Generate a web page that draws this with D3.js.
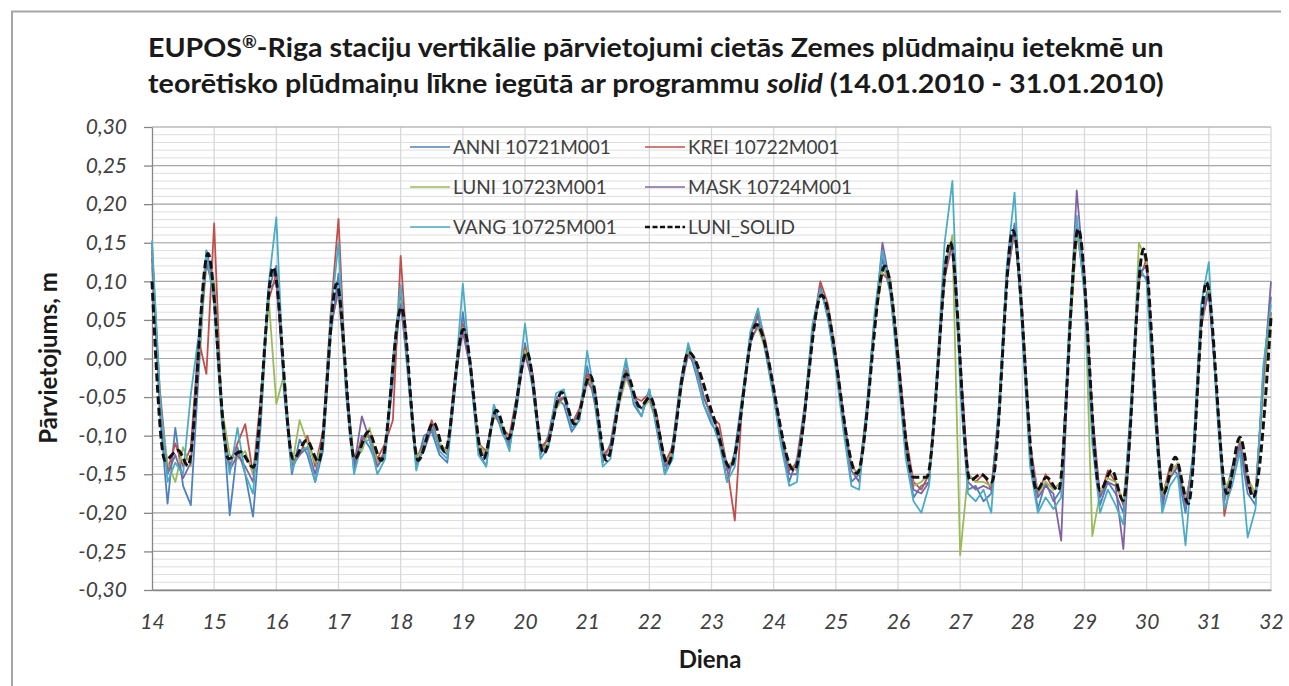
<!DOCTYPE html>
<html>
<head>
<meta charset="utf-8">
<script src="https://cdn.jsdelivr.net/npm/d3@7"></script>
<style>
  body { margin: 0; background: #fff; }
  svg text { font-family: Lato, "Open Sans", sans-serif; }
</style>
</head>
<body>
<svg id="chart" width="1289" height="686"></svg>
<script>
// axis ticks
var xTicks = [14, 15, 16, 17, 18, 19, 20, 21, 22, 23, 24, 25, 26, 27, 28, 29, 30, 31, 32];
var yTicks = [-0.30, -0.25, -0.20, -0.15, -0.10, -0.05, 0.00, 0.05, 0.10, 0.15, 0.20, 0.25, 0.30];

var seriesNames = ["ANNI 10721M001", "KREI 10722M001", "LUNI 10723M001", "MASK 10724M001", "VANG 10725M001"];
var seriesColors = ["#4f81bd", "#c0504d", "#9bbb59", "#8064a2", "#4bacc6"];
var solidName = "LUNI_SOLID";

// station readings, every 3 hours from 14.0 to 32.0 (8 per day)
var anni = [
  0.150, -0.070, -0.188, -0.090, -0.165, -0.190, -0.020, 0.140,
  0.095, -0.060, -0.203, -0.115, -0.150, -0.205, -0.085, 0.090,
  0.120, -0.045, -0.150, -0.105, -0.125, -0.160, -0.120, 0.030,
  0.110, -0.050, -0.145, -0.100, -0.115, -0.140, -0.125, -0.030,
  0.080, -0.030, -0.140, -0.100, -0.095, -0.125, -0.135, -0.040,
  0.060, -0.020, -0.120, -0.140, -0.060, -0.095, -0.115, -0.060,
  0.020, -0.040, -0.125, -0.100, -0.050, -0.060, -0.095, -0.080,
  -0.010, -0.060, -0.135, -0.110, -0.050, -0.005, -0.060, -0.075,
  -0.040, -0.095, -0.150, -0.110, -0.030, 0.015, -0.020, -0.060,
  -0.085, -0.100, -0.160, -0.120, -0.045, 0.030, 0.055, 0.005,
  -0.050, -0.110, -0.160, -0.130, -0.060, 0.040, 0.095, 0.050,
  -0.010, -0.090, -0.160, -0.150, -0.060, 0.055, 0.130, 0.085,
  -0.010, -0.120, -0.180, -0.165, -0.160, -0.020, 0.125, 0.150,
  -0.020, -0.170, -0.165, -0.185, -0.175, -0.060, 0.115, 0.175,
  0.040, -0.130, -0.195, -0.160, -0.185, -0.170, 0.030, 0.170,
  0.090, -0.090, -0.190, -0.160, -0.175, -0.200, -0.060, 0.110,
  0.105, -0.055, -0.195, -0.140, -0.150, -0.200, -0.120, 0.055,
  0.095, -0.050, -0.185, -0.140, -0.115, -0.175, -0.190, -0.020,
  0.080
];
var krei = [
  0.140, -0.040, -0.145, -0.110, -0.140, -0.115, 0.025, -0.020,
  0.175, -0.080, -0.140, -0.110, -0.085, -0.150, -0.050, 0.075,
  0.110, -0.030, -0.135, -0.125, -0.100, -0.140, -0.095, 0.060,
  0.181, -0.040, -0.135, -0.105, -0.100, -0.130, -0.110, -0.080,
  0.133, -0.020, -0.130, -0.110, -0.080, -0.115, -0.120, -0.020,
  0.045, -0.005, -0.110, -0.120, -0.070, -0.090, -0.100, -0.045,
  0.015, -0.020, -0.115, -0.105, -0.055, -0.050, -0.085, -0.065,
  -0.020, -0.040, -0.125, -0.115, -0.055, -0.015, -0.050, -0.055,
  -0.045, -0.075, -0.135, -0.115, -0.035, 0.010, -0.005, -0.050,
  -0.075, -0.085, -0.140, -0.210, -0.050, 0.030, 0.060, 0.020,
  -0.040, -0.100, -0.145, -0.135, -0.065, 0.035, 0.100, 0.070,
  0.005, -0.075, -0.140, -0.150, -0.070, 0.050, 0.110, 0.100,
  0.010, -0.100, -0.160, -0.170, -0.150, -0.030, 0.105, 0.150,
  0.000, -0.150, -0.160, -0.150, -0.170, -0.070, 0.110, 0.165,
  0.060, -0.110, -0.175, -0.150, -0.170, -0.160, 0.020, 0.160,
  0.110, -0.070, -0.180, -0.145, -0.160, -0.190, -0.070, 0.100,
  0.130, -0.035, -0.180, -0.140, -0.140, -0.185, -0.135, 0.040,
  0.090, -0.040, -0.204, -0.150, -0.105, -0.160, -0.175, -0.030,
  0.060
];
var luni = [
  0.120, -0.060, -0.135, -0.160, -0.115, -0.140, 0.000, 0.120,
  0.100, -0.065, -0.125, -0.130, -0.120, -0.150, -0.070, 0.080,
  -0.059, -0.020, -0.140, -0.080, -0.110, -0.135, -0.110, 0.045,
  0.085, -0.035, -0.130, -0.120, -0.090, -0.135, -0.120, -0.010,
  0.075, -0.015, -0.130, -0.115, -0.090, -0.110, -0.120, -0.030,
  0.040, -0.015, -0.110, -0.125, -0.075, -0.085, -0.110, -0.050,
  0.010, -0.030, -0.120, -0.110, -0.065, -0.050, -0.085, -0.075,
  -0.025, -0.045, -0.125, -0.125, -0.065, -0.025, -0.050, -0.065,
  -0.055, -0.085, -0.140, -0.120, -0.045, 0.010, -0.010, -0.050,
  -0.075, -0.095, -0.140, -0.130, -0.060, 0.025, 0.040, 0.010,
  -0.045, -0.100, -0.140, -0.145, -0.075, 0.030, 0.085, 0.065,
  0.000, -0.080, -0.140, -0.150, -0.075, 0.045, 0.115, 0.105,
  0.005, -0.110, -0.165, -0.160, -0.150, -0.035, 0.115, 0.160,
  -0.255, -0.150, -0.160, -0.160, -0.165, -0.080, 0.105, 0.165,
  0.055, -0.115, -0.175, -0.160, -0.170, -0.160, 0.015, 0.165,
  0.105, -0.230, -0.175, -0.155, -0.160, -0.185, -0.080, 0.150,
  0.125, -0.045, -0.175, -0.150, -0.135, -0.185, -0.140, 0.045,
  0.090, -0.040, -0.170, -0.150, -0.105, -0.155, -0.175, -0.040,
  0.055
];
var mask = [
  0.130, -0.055, -0.150, -0.125, -0.155, -0.135, 0.015, 0.125,
  0.085, -0.075, -0.145, -0.125, -0.140, -0.160, -0.065, 0.090,
  0.100, -0.030, -0.140, -0.125, -0.115, -0.150, -0.110, 0.040,
  0.090, -0.030, -0.140, -0.075, -0.105, -0.140, -0.120, -0.005,
  0.070, -0.015, -0.135, -0.120, -0.090, -0.115, -0.125, -0.025,
  0.035, -0.015, -0.115, -0.130, -0.070, -0.090, -0.110, -0.050,
  0.005, -0.030, -0.120, -0.115, -0.060, -0.050, -0.085, -0.070,
  -0.030, -0.045, -0.125, -0.125, -0.060, -0.020, -0.050, -0.065,
  -0.050, -0.085, -0.140, -0.125, -0.040, 0.005, -0.010, -0.050,
  -0.075, -0.095, -0.145, -0.135, -0.055, 0.020, 0.045, 0.015,
  -0.040, -0.100, -0.150, -0.150, -0.075, 0.030, 0.090, 0.060,
  0.000, -0.080, -0.145, -0.160, -0.075, 0.045, 0.150, 0.095,
  0.000, -0.110, -0.170, -0.175, -0.160, -0.035, 0.115, 0.145,
  -0.005, -0.160, -0.170, -0.165, -0.170, -0.075, 0.100, 0.170,
  0.050, -0.115, -0.180, -0.165, -0.175, -0.236, 0.020, 0.218,
  0.100, -0.080, -0.180, -0.160, -0.165, -0.247, -0.075, 0.110,
  0.120, -0.045, -0.185, -0.155, -0.140, -0.190, -0.140, 0.050,
  0.085, -0.045, -0.175, -0.155, -0.110, -0.165, -0.180, -0.030,
  0.100
];
var vang = [
  0.153, -0.045, -0.160, -0.135, -0.150, -0.046, 0.030, 0.140,
  0.070, -0.085, -0.150, -0.090, -0.150, -0.175, -0.060, 0.095,
  0.183, -0.040, -0.145, -0.120, -0.115, -0.160, -0.105, 0.055,
  0.150, -0.045, -0.150, -0.110, -0.105, -0.150, -0.130, 0.000,
  0.095, -0.025, -0.145, -0.110, -0.085, -0.120, -0.130, -0.030,
  0.097, -0.020, -0.125, -0.140, -0.060, -0.090, -0.120, -0.045,
  0.045, -0.035, -0.130, -0.115, -0.045, -0.040, -0.090, -0.080,
  0.010, -0.050, -0.140, -0.130, -0.050, 0.000, -0.055, -0.075,
  -0.040, -0.090, -0.150, -0.130, -0.035, 0.020, -0.015, -0.060,
  -0.080, -0.110, -0.160, -0.140, -0.050, 0.035, 0.065, 0.010,
  -0.050, -0.115, -0.165, -0.160, -0.065, 0.045, 0.090, 0.055,
  -0.015, -0.095, -0.165, -0.170, -0.065, 0.060, 0.140, 0.090,
  -0.020, -0.130, -0.185, -0.200, -0.165, -0.020, 0.150, 0.230,
  -0.040, -0.175, -0.185, -0.170, -0.200, -0.060, 0.120, 0.215,
  0.030, -0.140, -0.200, -0.180, -0.195, -0.180, 0.040, 0.185,
  0.080, -0.110, -0.200, -0.170, -0.190, -0.215, -0.050, 0.120,
  0.100, -0.070, -0.200, -0.165, -0.150, -0.242, -0.120, 0.070,
  0.125, -0.060, -0.195, -0.165, -0.120, -0.232, -0.195, -0.010,
  0.070
];

// theoretical tide (solid), read at its turning points
var solidDays = [14.00, 14.21, 14.42, 14.58, 14.90, 15.23, 15.42, 15.63, 15.95, 16.27, 16.49, 16.68,
  16.97, 17.26, 17.48, 17.69, 18.01, 18.28, 18.53, 18.71, 19.01, 19.33, 19.54, 19.73, 20.03, 20.30,
  20.59, 20.80, 21.05, 21.31, 21.63, 21.85, 22.01, 22.30, 22.63, 23.03, 23.30, 23.72, 24.33, 24.77,
  25.34, 25.79, 26.25, 26.46, 26.84, 27.16, 27.33, 27.51, 27.85, 28.23, 28.39, 28.58, 28.90, 29.25,
  29.44, 29.62, 29.95, 30.27, 30.46, 30.67, 30.96, 31.29, 31.50, 31.71, 32.00];
var solidValues = [0.100, -0.132, -0.119, -0.139, 0.136, -0.130, -0.121, -0.141, 0.118, -0.130, -0.106, -0.134,
  0.097, -0.130, -0.095, -0.132, 0.066, -0.132, -0.083, -0.121, 0.038, -0.130, -0.067, -0.104, 0.008, -0.123,
  -0.044, -0.085, -0.022, -0.132, -0.020, -0.063, -0.050, -0.137, 0.008, -0.075, -0.141, 0.044, -0.145, 0.082,
  -0.149, 0.120, -0.154, -0.154, 0.151, -0.158, -0.150, -0.160, 0.166, -0.171, -0.154, -0.171, 0.168, -0.171,
  -0.145, -0.184, 0.142, -0.175, -0.128, -0.188, 0.099, -0.175, -0.102, -0.180, 0.053];

var stations = [anni, krei, luni, mask, vang];

var svg = d3.select("#chart");
var x = d3.scaleLinear().domain([14, 32]).range([152, 1271]);
var y = d3.scaleLinear().domain([-0.3, 0.3]).range([590, 127]);
var fmt = d3.formatLocale({decimal: ",", thousands: " ", grouping: [3], currency: ["", ""], minus: "-"}).format(".2f");

// outer chart frame
svg.append("path")
  .attr("d", "M12,686 V11.5 H1281")
  .attr("fill", "none")
  .attr("stroke", "#a6a6a6")
  .attr("stroke-width", 2);

// title
var titleLines = [
  [{t: "EUPOS"}, {t: "®", sup: true}, {t: "-Riga staciju vertikālie pārvietojumi cietās Zemes plūdmaiņu ietekmē un"}],
  [{t: "teorētisko plūdmaiņu līkne iegūtā ar programmu "}, {t: "solid", italic: true}, {t: " (14.01.2010 - 31.01.2010)"}]
];
var titleBase = [57, 93];
titleLines.forEach(function(parts, i) {
  var g = svg.append("g");
  var txt = g.append("text")
    .attr("font-size", 27)
    .attr("font-weight", "bold")
    .attr("fill", "#1a1a1a");
  parts.forEach(function(p) {
    var ts = txt.append("tspan").text(p.t).attr("font-style", p.italic ? "italic" : "normal");
    if (p.sup) ts.attr("font-size", 17).attr("dy", -9);
    else if (p.t.charAt(0) === "-") ts.attr("dy", 9);
  });
  var w = txt.node().getBBox().width;
  g.attr("transform", "translate(148," + titleBase[i] + ") scale(" + (1016 / w) + ",1)");
});

// grid
var plot = svg.append("g");
var minor = d3.range(-30, 31).map(function(i) { return i / 100; });
plot.selectAll(".minor").data(minor).enter().append("line")
  .attr("x1", 152).attr("x2", 1271)
  .attr("y1", function(d) { return y(d); }).attr("y2", function(d) { return y(d); })
  .attr("stroke", "#dedede").attr("stroke-width", 1);
plot.selectAll(".vgrid").data(xTicks.slice(1)).enter().append("line")
  .attr("x1", function(d) { return x(d); }).attr("x2", function(d) { return x(d); })
  .attr("y1", 127).attr("y2", 590)
  .attr("stroke", "#d6d8de").attr("stroke-width", 1.3);
plot.selectAll(".major").data(yTicks).enter().append("line")
  .attr("x1", 152).attr("x2", 1271)
  .attr("y1", function(d) { return y(d); }).attr("y2", function(d) { return y(d); })
  .attr("stroke", "#a8a8a8").attr("stroke-width", 1.2);

// axes
var yAxis = svg.append("g").attr("transform", "translate(152,0)")
  .call(d3.axisLeft(y).tickValues(yTicks).tickFormat(fmt).tickSizeInner(8).tickSizeOuter(0).tickPadding(17));
var xAxis = svg.append("g").attr("transform", "translate(0,590)")
  .call(d3.axisBottom(x).tickValues(xTicks).tickFormat(d3.format("d")).tickSizeInner(0).tickSizeOuter(0).tickPadding(24));
[yAxis, xAxis].forEach(function(a) {
  a.select(".domain").attr("stroke", "#868686").attr("stroke-width", 1.3);
  a.selectAll(".tick line").attr("stroke", "#868686").attr("stroke-width", 1.3);
  a.selectAll(".tick text")
    .attr("font-family", "Lato, 'Open Sans', sans-serif")
    .attr("font-size", 21)
    .attr("font-style", "italic")
    .attr("fill", "#404040");
});

// station lines
var line = d3.line()
  .x(function(d, i) { return x(14 + i / 8); })
  .y(function(d) { return y(d); });
stations.forEach(function(s, i) {
  svg.append("path")
    .datum(s)
    .attr("d", line)
    .attr("fill", "none")
    .attr("stroke", seriesColors[i])
    .attr("stroke-width", 1.8)
    .attr("stroke-linejoin", "round");
});

// solid tide
var solidLine = d3.line()
  .x(function(d) { return x(d); })
  .y(function(d, i) { return y(solidValues[i]); })
  .curve(d3.curveMonotoneX);
svg.append("path")
  .datum(solidDays)
  .attr("d", solidLine)
  .attr("fill", "none")
  .attr("stroke", "#111")
  .attr("stroke-width", 3)
  .attr("stroke-dasharray", "8,3.5");

// legend
var legendItems = seriesNames.map(function(n, i) { return {name: n, color: seriesColors[i], dash: null}; });
legendItems.push({name: solidName, color: "#111", dash: "5,2.5"});
var legend = svg.append("g");
legendItems.forEach(function(d, i) {
  var col = i % 2, row = Math.floor(i / 2);
  var lx = col === 0 ? 410 : 645;
  var ly = 147 + row * 40;
  legend.append("line")
    .attr("x1", lx).attr("x2", lx + 40)
    .attr("y1", ly).attr("y2", ly)
    .attr("stroke", d.color)
    .attr("stroke-width", d.dash ? 2.5 : 1.4)
    .attr("stroke-dasharray", d.dash);
  legend.append("text")
    .attr("x", lx + 43).attr("y", ly + 7)
    .attr("font-size", 19)
    .attr("fill", "#404040")
    .text(d.name);
});

// axis titles
svg.append("text")
  .attr("x", 710).attr("y", 668)
  .attr("text-anchor", "middle")
  .attr("font-size", 24)
  .attr("font-weight", "bold")
  .attr("fill", "#1a1a1a")
  .text("Diena");
svg.append("text")
  .attr("transform", "translate(57,358) rotate(-90)")
  .attr("text-anchor", "middle")
  .attr("font-size", 24)
  .attr("font-weight", "bold")
  .attr("fill", "#1a1a1a")
  .text("Pārvietojums, m");
</script>
</body>
</html>
